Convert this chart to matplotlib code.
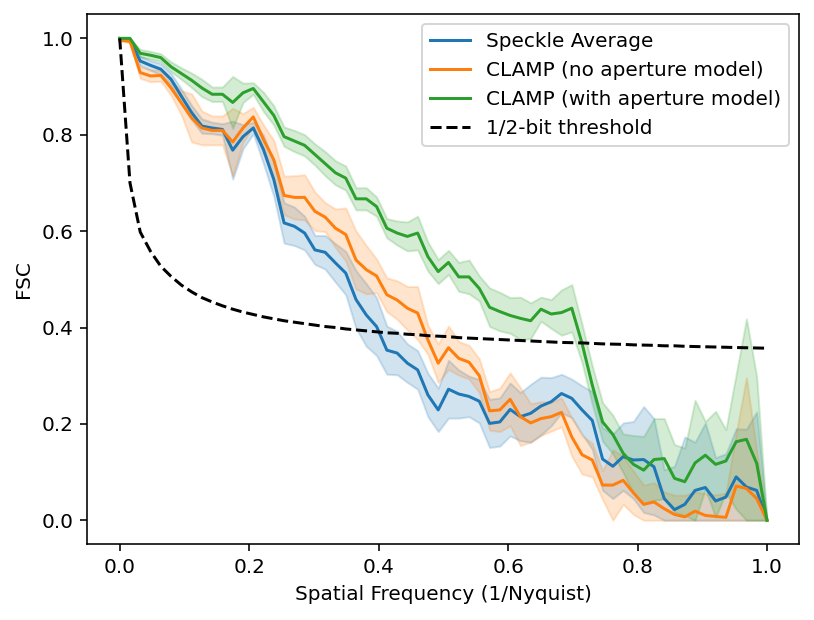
import numpy as np
import matplotlib
matplotlib.use('Agg')
import matplotlib.pyplot as plt

# FSC curves, 64 shells from 0 to Nyquist
freq = np.linspace(0.0, 1.0, 64)

speckle_mean = [
    1.0, 0.996, 0.953, 0.944, 0.936, 0.915, 0.880, 0.846, 0.818, 0.814,
    0.811, 0.768, 0.796, 0.814, 0.769, 0.707, 0.617, 0.610, 0.596, 0.561,
    0.556, 0.534, 0.513, 0.458, 0.426, 0.402, 0.353, 0.347, 0.326, 0.312,
    0.260, 0.229, 0.272, 0.262, 0.257, 0.247, 0.201, 0.204, 0.230, 0.215,
    0.222, 0.237, 0.246, 0.263, 0.253, 0.229, 0.207, 0.127, 0.112, 0.132,
    0.125, 0.126, 0.111, 0.045, 0.022, 0.033, 0.062, 0.068, 0.040, 0.048,
    0.090, 0.069, 0.062, 0.0,
]
speckle_std = [
    0.002, 0.003, 0.010, 0.010, 0.012, 0.012, 0.015, 0.015, 0.015, 0.012,
    0.012, 0.060, 0.025, 0.012, 0.030, 0.035, 0.042, 0.040, 0.035, 0.030,
    0.035, 0.040, 0.045, 0.060, 0.065, 0.060, 0.050, 0.045, 0.040, 0.040,
    0.045, 0.045, 0.060, 0.050, 0.042, 0.045, 0.050, 0.050, 0.055, 0.050,
    0.060, 0.060, 0.050, 0.040, 0.040, 0.050, 0.060, 0.065, 0.067, 0.070,
    0.080, 0.110, 0.100, 0.060, 0.090, 0.140, 0.100, 0.134, 0.090, 0.090,
    0.100, 0.120, 0.163, 0.0,
]

clamp_mean = [
    0.996, 0.994, 0.929, 0.922, 0.923, 0.897, 0.866, 0.835, 0.814, 0.809,
    0.809, 0.785, 0.814, 0.837, 0.790, 0.748, 0.674, 0.670, 0.670, 0.641,
    0.629, 0.606, 0.593, 0.540, 0.520, 0.507, 0.468, 0.457, 0.440, 0.430,
    0.374, 0.326, 0.358, 0.336, 0.328, 0.300, 0.227, 0.229, 0.251, 0.215,
    0.202, 0.211, 0.215, 0.224, 0.173, 0.136, 0.125, 0.073, 0.073, 0.083,
    0.057, 0.033, 0.038, 0.024, 0.012, 0.007, 0.019, 0.010, 0.008, 0.006,
    0.071, 0.066, 0.045, 0.0,
]
clamp_std = [
    0.002, 0.003, 0.012, 0.012, 0.012, 0.015, 0.025, 0.050, 0.035, 0.030,
    0.030, 0.070, 0.030, 0.020, 0.030, 0.040, 0.040, 0.045, 0.047, 0.040,
    0.030, 0.040, 0.055, 0.060, 0.050, 0.035, 0.035, 0.040, 0.045, 0.055,
    0.030, 0.040, 0.045, 0.035, 0.035, 0.035, 0.040, 0.045, 0.055, 0.060,
    0.040, 0.035, 0.030, 0.030, 0.040, 0.040, 0.035, 0.030, 0.073, 0.050,
    0.045, 0.040, 0.040, 0.035, 0.040, 0.045, 0.040, 0.045, 0.045, 0.050,
    0.110, 0.230, 0.100, 0.0,
]

aperture_mean = [
    1.0, 1.0, 0.969, 0.965, 0.960, 0.941, 0.927, 0.913, 0.897, 0.884,
    0.884, 0.867, 0.887, 0.896, 0.868, 0.840, 0.796, 0.787, 0.778, 0.759,
    0.740, 0.721, 0.710, 0.667, 0.667, 0.651, 0.606, 0.596, 0.589, 0.596,
    0.547, 0.516, 0.535, 0.505, 0.505, 0.481, 0.442, 0.433, 0.425, 0.419,
    0.414, 0.438, 0.428, 0.431, 0.440, 0.367, 0.280, 0.204, 0.178, 0.139,
    0.116, 0.104, 0.126, 0.128, 0.087, 0.080, 0.119, 0.135, 0.116, 0.123,
    0.163, 0.168, 0.118, 0.0,
]
aperture_std = [
    0.002, 0.003, 0.008, 0.008, 0.008, 0.010, 0.012, 0.015, 0.018, 0.015,
    0.015, 0.054, 0.020, 0.012, 0.020, 0.020, 0.020, 0.022, 0.022, 0.022,
    0.025, 0.025, 0.025, 0.023, 0.023, 0.020, 0.020, 0.025, 0.030, 0.035,
    0.030, 0.025, 0.025, 0.030, 0.035, 0.026, 0.040, 0.040, 0.037, 0.044,
    0.037, 0.025, 0.030, 0.047, 0.049, 0.040, 0.040, 0.040, 0.040, 0.040,
    0.060, 0.070, 0.085, 0.083, 0.070, 0.070, 0.130, 0.070, 0.110, 0.065,
    0.140, 0.250, 0.180, 0.0,
]

half_bit = [
    1.0, 0.700, 0.598, 0.558, 0.527, 0.506, 0.488, 0.474, 0.462, 0.453,
    0.445, 0.438, 0.432, 0.427, 0.422, 0.418, 0.414, 0.411, 0.408, 0.405,
    0.402, 0.400, 0.397, 0.395, 0.393, 0.391, 0.389, 0.388, 0.386, 0.385,
    0.383, 0.382, 0.381, 0.379, 0.378, 0.377, 0.376, 0.375, 0.374, 0.373,
    0.372, 0.371, 0.370, 0.369, 0.3685, 0.368, 0.367, 0.366, 0.3655, 0.365,
    0.364, 0.3635, 0.363, 0.362, 0.362, 0.361, 0.3605, 0.360, 0.3595, 0.359,
    0.3584, 0.358, 0.3575, 0.357,
]

curves = [
    ('Speckle Average', speckle_mean, speckle_std),
    ('CLAMP (no aperture model)', clamp_mean, clamp_std),
    ('CLAMP (with aperture model)', aperture_mean, aperture_std),
]

DPI = 144
fig = plt.figure(figsize=(814 / DPI, 620 / DPI), dpi=DPI)
ax = fig.add_axes([0.1073, 0.122, 0.8747, 0.855])

for label, mean, std in curves:
    mean = np.asarray(mean)
    std = np.asarray(std)
    line, = ax.plot(freq, mean, label=label)
    ax.fill_between(freq, np.clip(mean - std, 0, 1), np.clip(mean + std, 0, 1),
                    color=line.get_color(), alpha=0.2)

ax.plot(freq, half_bit, 'k--', label='1/2-bit threshold')

ax.set_xlabel('Spatial Frequency (1/Nyquist)')
ax.set_ylabel('FSC')
ax.legend(loc='upper right')

fig.savefig('out.png', dpi=DPI)
